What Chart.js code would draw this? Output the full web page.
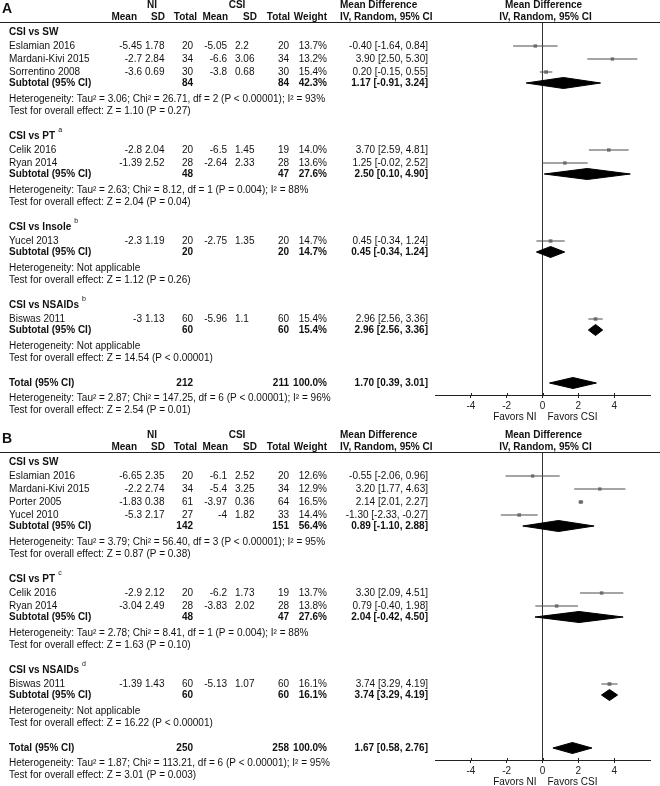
<!DOCTYPE html>
<html>
<head>
<meta charset="utf-8">
<script src="https://cdn.jsdelivr.net/npm/chart.js@4.4.1/dist/chart.umd.min.js"></script>
<style>
  html, body { margin: 0; padding: 0; background: #fff; }
  #wrap { position: relative; width: 660px; height: 786px; }
  canvas { position: absolute; left: 0; }
</style>
</head>
<body>
<div id="wrap">
  <canvas id="chartA" width="660" height="430" style="top:0"></canvas>
  <canvas id="chartB" width="660" height="356" style="top:430px"></canvas>
</div>
<script>
// ---- Panel A ----
const studiesA  = ['Eslamian 2016', 'Mardani-Kivi 2015', 'Sorrentino 2008', 'Celik 2016', 'Ryan 2014', 'Yucel 2013', 'Biswas 2011'];
const groupOfA  = [0, 0, 0, 1, 1, 2, 3];
const niMeanA   = [-5.45, -2.7, -3.6, -2.8, -1.39, -2.3, -3];
const niSdA     = [1.78, 2.84, 0.69, 2.04, 2.52, 1.19, 1.13];
const niNA      = [20, 34, 30, 20, 28, 20, 60];
const csiMeanA  = [-5.05, -6.6, -3.8, -6.5, -2.64, -2.75, -5.96];
const csiSdA    = [2.2, 3.06, 0.68, 1.45, 2.33, 1.35, 1.1];
const csiNA     = [20, 34, 30, 19, 28, 20, 60];
const weightA   = [13.7, 13.2, 15.4, 14.0, 13.6, 14.7, 15.4];
const mdA       = [-0.40, 3.90, 0.20, 3.70, 1.25, 0.45, 2.96];
const loA       = [-1.64, 2.50, -0.15, 2.59, -0.02, -0.34, 2.56];
const hiA       = [0.84, 5.30, 0.55, 4.81, 2.52, 1.24, 3.36];

const groupsA   = ['CSI vs SW', 'CSI vs PT', 'CSI vs Insole', 'CSI vs NSAIDs'];
const supA      = ['', 'a', 'b', 'b'];
const subNiA    = [84, 48, 20, 60];
const subCsiA   = [84, 47, 20, 60];
const subWA     = [42.3, 27.6, 14.7, 15.4];
const subMdA    = [1.17, 2.50, 0.45, 2.96];
const subLoA    = [-0.91, 0.10, -0.34, 2.56];
const subHiA    = [3.24, 4.90, 1.24, 3.36];
const hetA      = ['Tau² = 3.06; Chi² = 26.71, df = 2 (P < 0.00001); I² = 93%',
                   'Tau² = 2.63; Chi² = 8.12, df = 1 (P = 0.004); I² = 88%',
                   'Not applicable', 'Not applicable'];
const testA     = ['Z = 1.10 (P = 0.27)', 'Z = 2.04 (P = 0.04)', 'Z = 1.12 (P = 0.26)', 'Z = 14.54 (P < 0.00001)'];
const totalA    = [212, 211, 100.0, 1.70, 0.39, 3.01]; // NI n, CSI n, weight, md, lo, hi
const totalHetA = 'Tau² = 2.87; Chi² = 147.25, df = 6 (P < 0.00001); I² = 96%';
const totalTestA = 'Z = 2.54 (P = 0.01)';

// ---- Panel B ----
const studiesB  = ['Eslamian 2016', 'Mardani-Kivi 2015', 'Porter 2005', 'Yucel 2010', 'Celik 2016', 'Ryan 2014', 'Biswas 2011'];
const groupOfB  = [0, 0, 0, 0, 1, 1, 2];
const niMeanB   = [-6.65, -2.2, -1.83, -5.3, -2.9, -3.04, -1.39];
const niSdB     = [2.35, 2.74, 0.38, 2.17, 2.12, 2.49, 1.43];
const niNB      = [20, 34, 61, 27, 20, 28, 60];
const csiMeanB  = [-6.1, -5.4, -3.97, -4, -6.2, -3.83, -5.13];
const csiSdB    = [2.52, 3.25, 0.36, 1.82, 1.73, 2.02, 1.07];
const csiNB     = [20, 34, 64, 33, 19, 28, 60];
const weightB   = [12.6, 12.9, 16.5, 14.4, 13.7, 13.8, 16.1];
const mdB       = [-0.55, 3.20, 2.14, -1.30, 3.30, 0.79, 3.74];
const loB       = [-2.06, 1.77, 2.01, -2.33, 2.09, -0.40, 3.29];
const hiB       = [0.96, 4.63, 2.27, -0.27, 4.51, 1.98, 4.19];

const groupsB   = ['CSI vs SW', 'CSI vs PT', 'CSI vs NSAIDs'];
const supB      = ['', 'c', 'd'];
const subNiB    = [142, 48, 60];
const subCsiB   = [151, 47, 60];
const subWB     = [56.4, 27.6, 16.1];
const subMdB    = [0.89, 2.04, 3.74];
const subLoB    = [-1.10, -0.42, 3.29];
const subHiB    = [2.88, 4.50, 4.19];
const hetB      = ['Tau² = 3.79; Chi² = 56.40, df = 3 (P < 0.00001); I² = 95%',
                   'Tau² = 2.78; Chi² = 8.41, df = 1 (P = 0.004); I² = 88%',
                   'Not applicable'];
const testB     = ['Z = 0.87 (P = 0.38)', 'Z = 1.63 (P = 0.10)', 'Z = 16.22 (P < 0.00001)'];
const totalB    = [250, 258, 100.0, 1.67, 0.58, 2.76];
const totalHetB = 'Tau² = 1.87; Chi² = 113.21, df = 6 (P < 0.00001); I² = 95%';
const totalTestB = 'Z = 3.01 (P = 0.003)';

const xTicks = [-4, -2, 0, 2, 4];

const FONT = '"Liberation Sans", Arial, sans-serif';
const TOP = 22;       // header rule / top of plot area
const DIAMOND_H = 5.5;

// text columns
const COL = { name: 9, niMean: 142, niSd: 145, niN: 193, csiMean: 227, csiSd: 235, csiN: 289, weight: 327, md: 428 };

function ciText(md, lo, hi) {
    return md.toFixed(2) + ' [' + lo.toFixed(2) + ', ' + hi.toFixed(2) + ']';
}

function layoutRows(p) {
    const rows = [];
    let y = 10;
    p.groups.forEach((g, gi) => {
        if (gi > 0) y += 25;
        rows.push({ type: 'group', gi, y });
        let first = true;
        p.groupOf.forEach((gg, i) => {
            if (gg !== gi) return;
            y += first ? 14 : 13;
            first = false;
            rows.push({ type: 'study', i, y });
        });
        y += 11; rows.push({ type: 'sub', gi, y });
        y += 16; rows.push({ type: 'het', text: p.het[gi], y });
        y += 12; rows.push({ type: 'test', text: p.test[gi], y });
    });
    y += 25; rows.push({ type: 'total', y });
    const axisY = y + 12;
    y += 15; rows.push({ type: 'het', text: p.totalHet, y });
    y += 12; rows.push({ type: 'test', text: p.totalTest, y });
    return { rows, axisY };
}

function makePanel(id, p) {
    const canvas = document.getElementById(id);
    const H = canvas.height;
    const { rows, axisY } = layoutRows(p);

    const ciData = [], sqData = [], sqR = [];
    rows.filter(r => r.type === 'study').forEach(r => {
        ciData.push({ x: p.lo[r.i], y: r.y }, { x: p.hi[r.i], y: r.y }, { x: p.hi[r.i], y: null });
        sqData.push({ x: p.md[r.i], y: r.y });
        sqR.push(0.68 * Math.sqrt(p.weight[r.i]));
    });

    const diamond = (md, lo, hi, y) => ({
        type: 'scatter',
        data: [{ x: lo, y }, { x: md, y: y - DIAMOND_H }, { x: hi, y }, { x: md, y: y + DIAMOND_H }, { x: lo, y }],
        showLine: true, fill: 'shape', tension: 0,
        backgroundColor: '#000', borderColor: '#000', borderWidth: 1, pointRadius: 0
    });

    const datasets = [
        { type: 'scatter', data: ciData, showLine: true, spanGaps: false, borderColor: '#4a4a4a', borderWidth: 1, pointRadius: 0 },
        { type: 'scatter', data: sqData, pointStyle: 'rect', pointRadius: sqR, backgroundColor: '#8a8a8a', borderWidth: 0 }
    ];
    rows.forEach(r => {
        if (r.type === 'sub') datasets.push(diamond(p.subMd[r.gi], p.subLo[r.gi], p.subHi[r.gi], r.y));
        if (r.type === 'total') datasets.push(diamond(p.total[3], p.total[4], p.total[5], r.y));
    });

    const tablePlugin = {
        id: 'forestTable',
        afterDraw(chart) {
            const { ctx, scales: { x, y } } = chart;
            const zero = x.getPixelForValue(0);
            const txt = (s, xx, yy, align, bold, size) => {
                ctx.font = (bold ? 'bold ' : '') + (size || 10) + 'px ' + FONT;
                ctx.textAlign = align;
                ctx.fillText(s, xx, yy);
            };
            ctx.save();
            ctx.fillStyle = '#111';
            ctx.textBaseline = 'middle';

            // header
            txt(p.label, 2, 9, 'left', true, 14);
            txt('NI', 152, 5, 'center', true);
            txt('CSI', 237, 5, 'center', true);
            txt('Mean', 137, 17, 'right', true);
            txt('SD', 165, 17, 'right', true);
            txt('Total', 197, 17, 'right', true);
            txt('Mean', 228, 17, 'right', true);
            txt('SD', 257, 17, 'right', true);
            txt('Total', 290, 17, 'right', true);
            txt('Weight', 327, 17, 'right', true);
            txt('Mean Difference', 340, 5, 'left', true);
            txt('IV, Random, 95% CI', 340, 17, 'left', true);
            txt('Mean Difference', zero + 1, 5, 'center', true);
            txt('IV, Random, 95% CI', zero + 3, 17, 'center', true);

            ctx.strokeStyle = '#222';
            ctx.lineWidth = 1;
            ctx.beginPath();
            ctx.moveTo(0, TOP + 0.5);
            ctx.lineTo(660, TOP + 0.5);
            ctx.stroke();

            // tick stubs above the axis line, so ticks cross it
            const ab = chart.chartArea.bottom;
            ctx.beginPath();
            xTicks.forEach(v => {
                const px = Math.round(x.getPixelForValue(v)) + 0.5;
                ctx.moveTo(px, ab - 2);
                ctx.lineTo(px, ab);
            });
            ctx.stroke();

            rows.forEach(r => {
                const yy = y.getPixelForValue(r.y);
                if (r.type === 'group') {
                    const name = p.groups[r.gi];
                    txt(name, COL.name, yy, 'left', true);
                    if (p.sup[r.gi]) {
                        ctx.font = 'bold 10px ' + FONT;
                        const w = ctx.measureText(name).width;
                        txt(p.sup[r.gi], COL.name + w + 3, yy - 6, 'left', false, 7);
                    }
                } else if (r.type === 'study') {
                    const i = r.i;
                    txt(p.studies[i], COL.name, yy, 'left');
                    txt(String(p.niMean[i]), COL.niMean, yy, 'right');
                    txt(String(p.niSd[i]), COL.niSd, yy, 'left');
                    txt(String(p.niN[i]), COL.niN, yy, 'right');
                    txt(String(p.csiMean[i]), COL.csiMean, yy, 'right');
                    txt(String(p.csiSd[i]), COL.csiSd, yy, 'left');
                    txt(String(p.csiN[i]), COL.csiN, yy, 'right');
                    txt(p.weight[i].toFixed(1) + '%', COL.weight, yy, 'right');
                    txt(ciText(p.md[i], p.lo[i], p.hi[i]), COL.md, yy, 'right');
                } else if (r.type === 'sub') {
                    const g = r.gi;
                    txt('Subtotal (95% CI)', COL.name, yy, 'left', true);
                    txt(String(p.subNi[g]), COL.niN, yy, 'right', true);
                    txt(String(p.subCsi[g]), COL.csiN, yy, 'right', true);
                    txt(p.subW[g].toFixed(1) + '%', COL.weight, yy, 'right', true);
                    txt(ciText(p.subMd[g], p.subLo[g], p.subHi[g]), COL.md, yy, 'right', true);
                } else if (r.type === 'het') {
                    txt('Heterogeneity: ' + r.text, COL.name, yy, 'left');
                } else if (r.type === 'test') {
                    txt('Test for overall effect: ' + r.text, COL.name, yy, 'left');
                } else if (r.type === 'total') {
                    const t = p.total;
                    txt('Total (95% CI)', COL.name, yy, 'left', true);
                    txt(String(t[0]), COL.niN, yy, 'right', true);
                    txt(String(t[1]), COL.csiN, yy, 'right', true);
                    txt(t[2].toFixed(1) + '%', COL.weight, yy, 'right', true);
                    txt(ciText(t[3], t[4], t[5]), COL.md, yy, 'right', true);
                }
            });

            // favours labels under the axis
            const fy = ab + 22;
            txt('Favors NI', zero - 6, fy, 'right');
            txt('Favors CSI', zero + 5, fy, 'left');
            ctx.restore();
        }
    };

    return new Chart(canvas, {
        type: 'scatter',
        data: { datasets },
        options: {
            responsive: false,
            animation: false,
            devicePixelRatio: 1,
            layout: { padding: { left: 435, right: 10, top: TOP, bottom: 0 } },
            plugins: { legend: { display: false }, tooltip: { enabled: false } },
            scales: {
                x: {
                    type: 'linear', min: -6, max: 6,
                    afterBuildTicks: s => { s.ticks = xTicks.map(v => ({ value: v })); },
                    afterFit: s => { s.height = H - TOP - axisY; },
                    grid: {
                        color: c => (c.tick && c.tick.value === 0 ? '#333' : 'rgba(0,0,0,0)'),
                        tickColor: '#222', tickLength: 3, lineWidth: 1
                    },
                    border: { display: true, color: '#222' },
                    ticks: { color: '#222', padding: 2, font: { size: 10, family: FONT } }
                },
                y: { type: 'linear', display: false, reverse: true, min: 0, max: axisY }
            }
        },
        plugins: [tablePlugin]
    });
}

makePanel('chartA', {
    label: 'A', studies: studiesA, groupOf: groupOfA,
    niMean: niMeanA, niSd: niSdA, niN: niNA, csiMean: csiMeanA, csiSd: csiSdA, csiN: csiNA,
    weight: weightA, md: mdA, lo: loA, hi: hiA,
    groups: groupsA, sup: supA, subNi: subNiA, subCsi: subCsiA, subW: subWA,
    subMd: subMdA, subLo: subLoA, subHi: subHiA, het: hetA, test: testA,
    total: totalA, totalHet: totalHetA, totalTest: totalTestA
});

makePanel('chartB', {
    label: 'B', studies: studiesB, groupOf: groupOfB,
    niMean: niMeanB, niSd: niSdB, niN: niNB, csiMean: csiMeanB, csiSd: csiSdB, csiN: csiNB,
    weight: weightB, md: mdB, lo: loB, hi: hiB,
    groups: groupsB, sup: supB, subNi: subNiB, subCsi: subCsiB, subW: subWB,
    subMd: subMdB, subLo: subLoB, subHi: subHiB, het: hetB, test: testB,
    total: totalB, totalHet: totalHetB, totalTest: totalTestB
});
</script>
</body>
</html>
